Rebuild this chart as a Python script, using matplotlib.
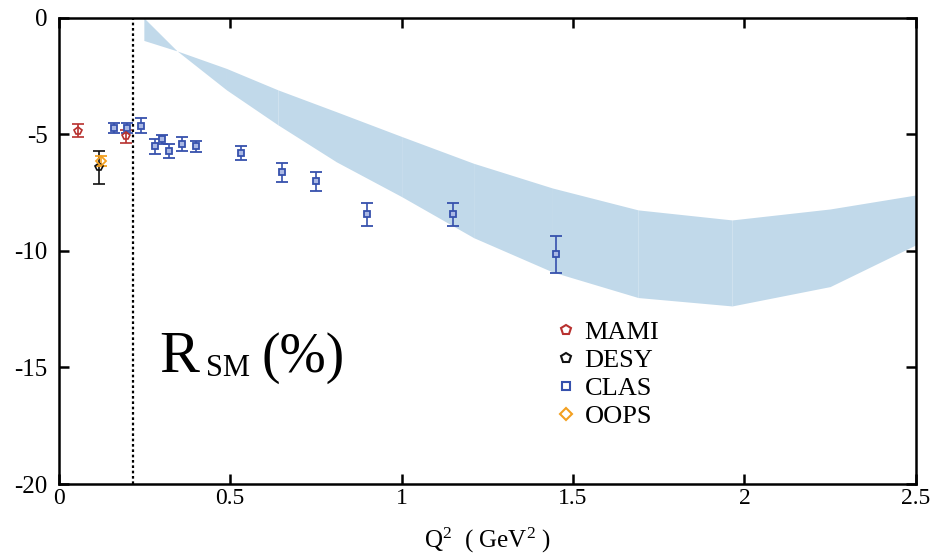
import matplotlib
matplotlib.use("Agg")
import matplotlib.pyplot as plt
from matplotlib.lines import Line2D

plt.rcParams["font.family"] = ["Liberation Serif", "DejaVu Serif"]
plt.rcParams["mathtext.fontset"] = "custom"
plt.rcParams["mathtext.rm"] = "Liberation Serif"
plt.rcParams["mathtext.it"] = "Liberation Serif"
plt.rcParams["axes.unicode_minus"] = False

# --- data -------------------------------------------------------------
mami_q2 = [0.056, 0.197]
mami_r = [-4.84, -5.09]
mami_err = [0.29, 0.29]

desy_q2 = [0.118]
desy_r = [-6.42]
desy_err = [0.69]

oops_q2 = [0.123]
oops_r = [-6.14]
oops_err = [0.21]

clas_q2 = [0.16, 0.20, 0.24, 0.28, 0.30, 0.32, 0.36, 0.40, 0.53, 0.65, 0.75, 0.90, 1.15, 1.45]
clas_r = [-4.74, -4.74, -4.62, -5.52, -5.21, -5.71, -5.42, -5.52, -5.81, -6.62, -7.02, -8.43, -8.43, -10.14]
clas_err = [0.21, 0.21, 0.32, 0.31, 0.20, 0.31, 0.30, 0.22, 0.31, 0.41, 0.39, 0.50, 0.50, 0.79]

# theory band: two edges evaluated at common Q^2 nodes
band_q2 = [0.248, 0.345, 0.489, 0.639, 0.81, 1.0, 1.21, 1.44, 1.69, 1.964, 2.25, 2.5]
band_edge_a = [0.0, -1.42, -3.09, -4.59, -6.18, -7.67, -9.43, -10.9, -12.0, -12.36, -11.53, -9.74]
band_edge_b = [-0.97, -1.42, -2.17, -3.09, -4.03, -5.09, -6.24, -7.3, -8.24, -8.67, -8.2, -7.6]
# the band is drawn as separate patches joined at these node indices
band_joins = [0, 2, 3, 4, 5, 6, 7, 8, 9, 11]

threshold_q2 = 0.216

x_ticks = [0, 0.5, 1, 1.5, 2, 2.5]
x_ticklabels = ["0", "0.5", "1", "1.5", "2", "2.5"]
y_ticks = [0, -5, -10, -15, -20]
y_ticklabels = ["0", "-5", "-10", "-15", "-20"]

# --- figure -------------------------------------------------------------
fig = plt.figure(figsize=(9.49, 5.57), dpi=100)
ax = fig.add_axes([0.062, 0.131, 0.903, 0.837])

band_color = "#c1d9ea"
for i0, i1 in zip(band_joins[:-1], band_joins[1:]):
    ax.fill_between(band_q2[i0:i1 + 1], band_edge_a[i0:i1 + 1], band_edge_b[i0:i1 + 1],
                    color=band_color, linewidth=0, zorder=1)

ax.axvline(threshold_q2, color="black", linestyle=(0, (1.2, 1.2)), linewidth=1.6, zorder=2)

eb_kw = dict(linestyle="none", capsize=4, elinewidth=1.2, capthick=1.2, zorder=3)

c_clas = "#3651ad"
c_mami = "#b8312f"
c_desy = "#111111"
c_oops = "#f3a020"

ax.errorbar(clas_q2, clas_r, yerr=clas_err, color=c_clas, marker="s", markersize=5,
            mfc="#aab8e4", mec=c_clas, mew=1.3, **eb_kw)
ax.errorbar(desy_q2, desy_r, yerr=desy_err, color=c_desy, marker="p", markersize=6,
            mfc="none", mec=c_desy, mew=1.2, **eb_kw)
ax.errorbar(oops_q2, oops_r, yerr=oops_err, color=c_oops, marker="D", markersize=5,
            mfc="none", mec=c_oops, mew=1.3, **eb_kw)
ax.errorbar(mami_q2, mami_r, yerr=mami_err, color=c_mami, marker="p", markersize=6,
            mfc="none", mec=c_mami, mew=1.2, **eb_kw)

ax.set_xlim(0, 2.5)
ax.set_ylim(-20, 0)
ax.set_xticks(x_ticks)
ax.set_xticklabels(x_ticklabels)
ax.set_yticks(y_ticks)
ax.set_yticklabels(y_ticklabels)
ax.tick_params(direction="in", length=7, width=1.8, top=True, right=True, color="black")
ax.tick_params(axis="x", pad=3, labelsize=17)
ax.tick_params(axis="y", pad=8, labelsize=18)
for s in ax.spines.values():
    s.set_linewidth(1.8)

ax.set_xlabel(r"Q$^2$  ( GeV$^2$ )", fontsize=18, labelpad=12)

# observable name inside the frame
ax.text(0.294, -15.2, "R", fontsize=43, ha="left", va="baseline")
ax.text(0.428, -15.35, "SM", fontsize=22, ha="left", va="baseline")
ax.text(0.592, -15.2, "(%)", fontsize=40, ha="left", va="baseline")

handles = [
    Line2D([], [], linestyle="none", marker="p", markersize=7, mfc="none", mec=c_mami, mew=1.5, label="MAMI"),
    Line2D([], [], linestyle="none", marker="p", markersize=7, mfc="none", mec=c_desy, mew=1.5, label="DESY"),
    Line2D([], [], linestyle="none", marker="s", markersize=6, mfc="none", mec=c_clas, mew=1.5, label="CLAS"),
    Line2D([], [], linestyle="none", marker="D", markersize=6, mfc="none", mec=c_oops, mew=1.5, label="OOPS"),
]
ax.legend(handles=handles, loc="upper left", bbox_to_anchor=(0.564, 0.379), frameon=False,
          fontsize=19, labelspacing=0.17, handlelength=0.8, handletextpad=0.3, borderpad=0)

fig.savefig("out.png", dpi=100)
